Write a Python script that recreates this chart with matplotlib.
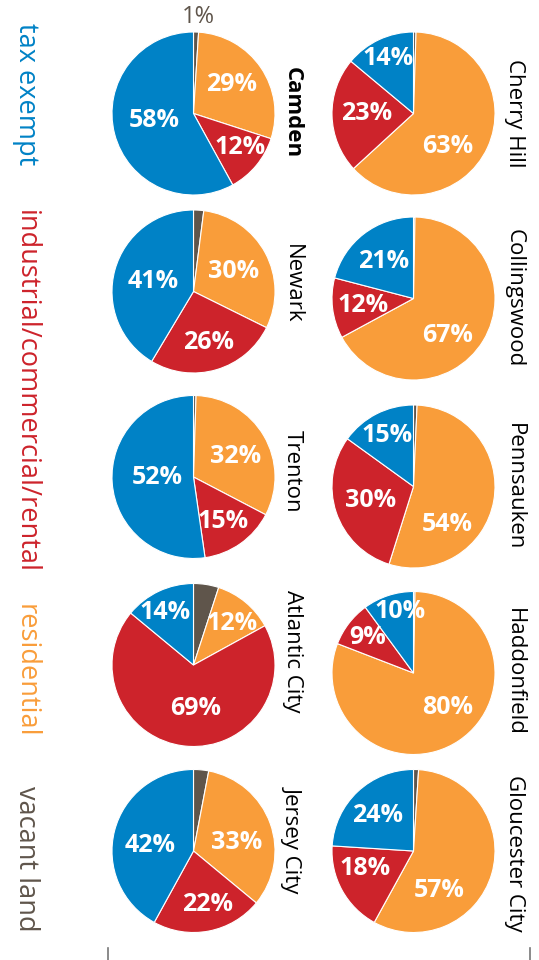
import matplotlib
matplotlib.use("Agg")
import matplotlib.pyplot as plt

# land use share (%) by municipality
cities = ["Camden", "Cherry Hill", "Newark", "Collingswood", "Trenton",
          "Pennsauken", "Atlantic City", "Haddonfield", "Jersey City", "Gloucester City"]
tax_exempt = [58, 14, 41, 21, 52, 15, 14, 10, 42, 24]
industrial = [12, 23, 26, 12, 15, 30, 69, 9, 22, 18]
residential = [29, 63, 30, 67, 32, 54, 12, 80, 33, 57]
vacant = [1, 0.5, 2, 0.3, 0.5, 0.7, 5, 0.3, 3, 1]

categories = ["tax exempt", "industrial/commercial/rental", "residential", "vacant land"]
COLORS = {"tax exempt": "#0082C6", "industrial/commercial/rental": "#CD232B",
          "residential": "#F99D3A", "vacant land": "#5F554B"}

W, H = 539, 960
R = 81.5  # pie radius in px

# pie centres (px), left column then right column, row by row
centers = [(193.5, 113.5), (413.5, 113.5), (193.5, 291.5), (413.5, 298.5),
           (193.5, 477), (413.5, 486.5), (193.5, 665), (413.5, 673),
           (193.5, 851), (413.5, 851)]
# city name anchor (px)
name_pos = [(292, 113), (514, 113), (292, 284), (514, 298), (292, 471),
            (514, 487), (292, 651), (514, 672), (292, 839), (514, 853)]
# percent label offsets in radius units: tax exempt, industrial, residential
label_pos = [
    [(-0.48, -0.08), (0.57, -0.42), (0.47, 0.35)],
    [(-0.31, 0.68), (-0.57, 0.0), (0.42, -0.41)],
    [(-0.50, 0.12), (0.18, -0.63), (0.49, 0.24)],
    [(-0.37, 0.45), (-0.62, -0.08), (0.42, -0.45)],
    [(-0.45, -0.01), (0.36, -0.55), (0.51, 0.25)],
    [(-0.33, 0.63), (-0.53, -0.17), (0.42, -0.47)],
    [(-0.35, 0.64), (0.02, -0.53), (0.47, 0.51)],
    [(-0.17, 0.75), (-0.56, 0.43), (0.42, -0.42)],
    [(-0.53, 0.07), (0.17, -0.66), (0.53, 0.11)],
    [(-0.44, 0.44), (-0.59, -0.21), (0.32, -0.48)],
]

plt.rcParams["font.family"] = ["Open Sans", "DejaVu Sans"]
fig = plt.figure(figsize=(W / 100, H / 100), dpi=100)

for i, city in enumerate(cities):
    cx, cy = centers[i]
    side = 2.5 * R
    ax = fig.add_axes([(cx - side / 2) / W, 1 - (cy + side / 2) / H, side / W, side / H])
    vals = [vacant[i], residential[i], industrial[i], tax_exempt[i]]
    cols = [COLORS["vacant land"], COLORS["residential"],
            COLORS["industrial/commercial/rental"], COLORS["tax exempt"]]
    ax.pie(vals, colors=cols, startangle=90, counterclock=False, radius=1,
           wedgeprops=dict(edgecolor="white", linewidth=0.8))
    ax.set_xlim(-1.25, 1.25)
    ax.set_ylim(-1.25, 1.25)
    for v, (dx, dy) in zip([tax_exempt[i], industrial[i], residential[i]], label_pos[i]):
        ax.text(dx, dy, f"{v}%", ha="center", va="center", color="white",
                fontsize=18, fontweight="bold")
    if city == "Camden":
        ax.text(0.06, 1.18, f"{vacant[i]}%", ha="center", va="center",
                color=COLORS["vacant land"], fontsize=17)
    nx, ny = name_pos[i]
    fig.text(nx / W, 1 - ny / H, city, rotation=-90, ha="center", va="center",
             fontsize=16, color="black",
             fontweight="bold" if city == "Camden" else "normal")

# category key down the left edge
key_y = [94, 392, 671, 859]
for cat, y in zip(categories, key_y):
    fig.text(26 / W, 1 - y / H, cat, rotation=-90, ha="center", va="center",
             fontsize=19.5, color=COLORS[cat])

# small guide ticks along the bottom
for x in (108, 530):
    fig.add_artist(plt.Line2D([x / W, x / W], [0, 12 / H], color="#777777", linewidth=1.2))

fig.savefig("out.png", dpi=100, facecolor="white")
